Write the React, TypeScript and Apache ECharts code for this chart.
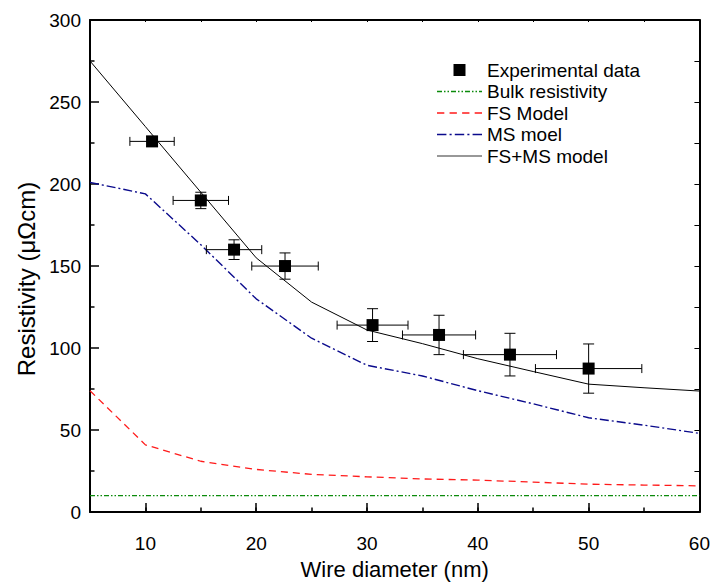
import React, { useEffect, useRef } from "react";
import * as echarts from "echarts";

// ---- data ----
const modelX = [5, 10, 15, 20, 25, 30, 35, 40, 45, 50, 55, 60];
const bulkResistivity = [10, 10, 10, 10, 10, 10, 10, 10, 10, 10, 10, 10];
const fsModel = [74, 41, 31, 26, 23, 21.5, 20.2, 19.5, 18.3, 17, 16.5, 16];
const msModel = [201, 194, 163, 130, 106, 89.5, 83, 74, 66, 57.5, 53, 48];
const fsMsModel = [275, 235, 195, 155, 128, 111, 102.7, 93.5, 85.7, 78, 75.8, 73.8];

const expX = [10.6, 15.0, 18.0, 22.6, 30.5, 36.5, 42.9, 50.0];
const expY = [226, 190, 160, 150, 114, 108, 96, 87.5];
const expXErr = [2.0, 2.5, 2.5, 3.0, 3.2, 3.3, 4.2, 4.8];
const expYErr = [3, 5, 6, 8, 10, 12, 13, 15];

const xTicks = [10, 20, 30, 40, 50, 60];
const yTicks = [0, 50, 100, 150, 200, 250, 300];

const seriesNames = ["Experimental data", "Bulk resistivity", "FS Model", "MS moel", "FS+MS model"];
const xTitle = "Wire diameter (nm)";
const yTitle = "Resistivity (\u03bc\u03a9cm)";

const FONT = "'Liberation Sans', Arial, Helvetica, sans-serif";
const GREEN = "#0b8a0b";
const RED = "#ff1a1a";
const BLUE = "#0a0a8c";

// legend icon path builder from dash pattern
function dashPath(pattern: number[], total: number, h: number): string {
  let pos = 0;
  let i = 0;
  let d = "";
  while (pos < total) {
    const len = pattern[i % pattern.length];
    if (i % 2 === 0) {
      const end = Math.min(total, pos + len);
      d += `M${pos},0H${end}V${h}H${pos}Z`;
    }
    pos += len;
    i++;
  }
  return "path://" + d;
}

export default function App() {
  const ref = useRef<HTMLDivElement>(null);
  useEffect(() => {
    if (!ref.current) return;
    const chart = echarts.init(ref.current, undefined, { renderer: "svg" });
    const pairs = (ys: number[]) => modelX.map((x, i) => [x, ys[i]]);
    const errData = expX.map((x, i) => [x, expY[i], expXErr[i], expYErr[i]]);
    const ptData = expX.map((x, i) => [x, expY[i]]);

    const greenPat = [5, 2, 1.5, 2, 1.5, 2];
    const redPat = [7, 5];
    const bluePat = [9, 3, 2, 3];

    const option: any = {
      animation: false,
      backgroundColor: "#fff",
      textStyle: { fontFamily: FONT },
      grid: { left: 90, right: 10, top: 20, bottom: 69, containLabel: false },
      legend: {
        show: true,
        orient: "vertical",
        left: 437,
        top: 60,
        padding: 0,
        itemWidth: 45,
        itemHeight: 12,
        itemGap: 1.5,
        selectedMode: false,
        textStyle: { fontFamily: FONT, fontSize: 19, color: "#000", lineHeight: 20 },
        itemStyle: { borderWidth: 0 },
        data: [
          { name: seriesNames[0], icon: "path://M0,0H12V12H0Z", itemStyle: { color: "#000", borderWidth: 0 } },
          { name: seriesNames[1], icon: dashPath(greenPat, 45, 1.3), itemStyle: { color: GREEN, borderWidth: 0 } },
          { name: seriesNames[2], icon: dashPath(redPat, 45, 1.3), itemStyle: { color: RED, borderWidth: 0 } },
          { name: seriesNames[3], icon: dashPath(bluePat, 45, 1.3), itemStyle: { color: BLUE, borderWidth: 0 } },
          { name: seriesNames[4], icon: "path://M0,0H45V1.2H0Z", itemStyle: { color: "#333", borderWidth: 0 } },
        ],
      },
      xAxis: [
        {
          type: "value",
          position: "bottom",
          min: 5,
          max: 60,
          minInterval: 10,
          maxInterval: 10,
          name: xTitle,
          nameLocation: "middle",
          nameGap: 33,
          nameTextStyle: { fontFamily: FONT, fontSize: 22, color: "#000" },
          axisLine: { show: true, onZero: false, lineStyle: { color: "#000", width: 2 } },
          axisTick: { show: true, inside: true, length: 9, lineStyle: { color: "#000", width: 1.5 } },
          axisLabel: {
            show: true,
            margin: 22,
            fontFamily: FONT,
            fontSize: 19,
            color: "#000",
            formatter: (v: number) => (xTicks.indexOf(v) >= 0 ? String(v) : ""),
          },
          splitLine: { show: false },
        },
        {
          type: "value",
          position: "bottom",
          min: 5,
          max: 60,
          interval: 5,
          axisLine: { show: false, onZero: false },
          axisTick: { show: true, inside: true, length: 4.5, lineStyle: { color: "#000", width: 1.5 } },
          axisLabel: { show: false },
          splitLine: { show: false },
        },
        {
          type: "value",
          position: "top",
          min: 5,
          max: 60,
          interval: 5,
          axisLine: { show: true, onZero: false, lineStyle: { color: "#000", width: 2 } },
          axisTick: { show: true, inside: true, length: 2, lineStyle: { color: "#000", width: 1 } },
          axisLabel: { show: false },
          splitLine: { show: false },
        },
      ],
      yAxis: [
        {
          type: "value",
          position: "left",
          min: 0,
          max: 300,
          interval: 50,
          name: yTitle,
          nameLocation: "middle",
          nameGap: 52,
          nameRotate: 90,
          nameTextStyle: { fontFamily: FONT, fontSize: 24, color: "#000", padding: [0, 26, 0, 0] },
          axisLine: { show: true, onZero: false, lineStyle: { color: "#000", width: 2 } },
          axisTick: { show: true, inside: true, length: 9, lineStyle: { color: "#000", width: 1.5 } },
          minorTick: { show: true, splitNumber: 2, length: 4.5, lineStyle: { color: "#000", width: 1.5 } },
          axisLabel: {
            show: true,
            margin: 9,
            fontFamily: FONT,
            fontSize: 19,
            color: "#000",
            formatter: (v: number) => (yTicks.indexOf(v) >= 0 ? String(v) : ""),
          },
          splitLine: { show: false },
          minorSplitLine: { show: false },
        },
        {
          type: "value",
          position: "right",
          min: 0,
          max: 300,
          interval: 25,
          axisLine: { show: true, onZero: false, lineStyle: { color: "#000", width: 2 } },
          axisTick: { show: true, inside: true, length: 5, lineStyle: { color: "#000", width: 1 } },
          axisLabel: { show: false },
          splitLine: { show: false },
        },
      ],
      series: [
        {
          name: seriesNames[1],
          type: "line",
          xAxisIndex: 0,
          yAxisIndex: 0,
          data: pairs(bulkResistivity),
          showSymbol: false,
          symbol: "none",
          color: GREEN,
          lineStyle: { color: GREEN, width: 1.3, type: greenPat },
          z: 2,
        },
        {
          name: seriesNames[2],
          type: "line",
          xAxisIndex: 0,
          yAxisIndex: 0,
          data: pairs(fsModel),
          showSymbol: false,
          symbol: "none",
          color: RED,
          lineStyle: { color: RED, width: 1.3, type: redPat },
          z: 2,
        },
        {
          name: seriesNames[3],
          type: "line",
          xAxisIndex: 0,
          yAxisIndex: 0,
          data: pairs(msModel),
          showSymbol: false,
          symbol: "none",
          color: BLUE,
          lineStyle: { color: BLUE, width: 1.4, type: bluePat },
          z: 2,
        },
        {
          name: seriesNames[4],
          type: "line",
          xAxisIndex: 0,
          yAxisIndex: 0,
          data: pairs(fsMsModel),
          showSymbol: false,
          symbol: "none",
          color: "#000",
          lineStyle: { color: "#000", width: 1, type: "solid" },
          z: 3,
        },
        {
          name: "errorbars",
          type: "custom",
          xAxisIndex: 0,
          yAxisIndex: 0,
          data: errData,
          encode: { x: 0, y: 1 },
          z: 4,
          renderItem: (params: any, api: any) => {
            const x = api.value(0);
            const y = api.value(1);
            const ex = api.value(2);
            const ey = api.value(3);
            const l = api.coord([x - ex, y]);
            const r = api.coord([x + ex, y]);
            const t = api.coord([x, y + ey]);
            const b = api.coord([x, y - ey]);
            const s = { stroke: "#000", lineWidth: 1 };
            const hc = 4.5;
            const vc = 5.5;
            return {
              type: "group",
              children: [
                { type: "line", shape: { x1: l[0], y1: l[1], x2: r[0], y2: r[1] }, style: s },
                { type: "line", shape: { x1: l[0], y1: l[1] - hc, x2: l[0], y2: l[1] + hc }, style: s },
                { type: "line", shape: { x1: r[0], y1: r[1] - hc, x2: r[0], y2: r[1] + hc }, style: s },
                { type: "line", shape: { x1: t[0], y1: t[1], x2: b[0], y2: b[1] }, style: s },
                { type: "line", shape: { x1: t[0] - vc, y1: t[1], x2: t[0] + vc, y2: t[1] }, style: s },
                { type: "line", shape: { x1: b[0] - vc, y1: b[1], x2: b[0] + vc, y2: b[1] }, style: s },
              ],
            };
          },
        },
        {
          name: seriesNames[0],
          type: "scatter",
          xAxisIndex: 0,
          yAxisIndex: 0,
          data: ptData,
          symbol: "rect",
          symbolSize: 12,
          color: "#000",
          itemStyle: { color: "#000", opacity: 1 },
          z: 5,
        },
      ],
    };
    chart.setOption(option);
    return () => chart.dispose();
  }, []);
  return (
    <div
      ref={ref}
      style={{ position: "fixed", left: 0, top: 0, width: 713, height: 585, background: "#fff" }}
    />
  );
}
